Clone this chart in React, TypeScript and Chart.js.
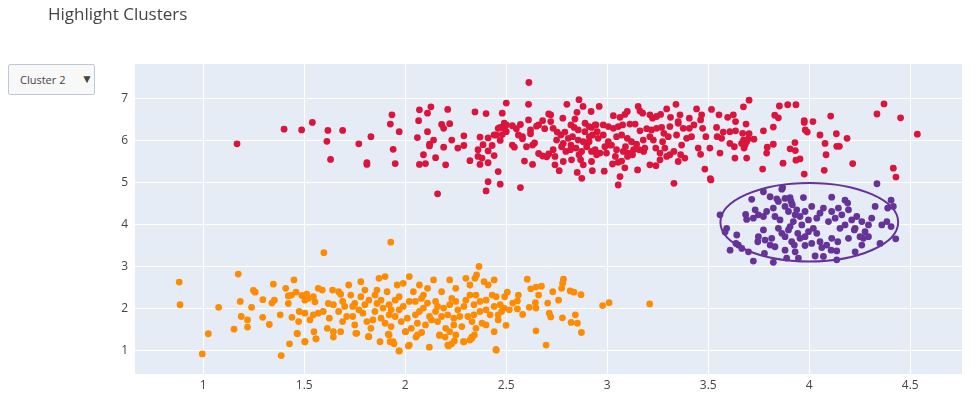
import React, { useEffect, useRef } from "react";
import { Chart, registerables } from "chart.js";
Chart.register(...registerables);

const titleText = "Highlight Clusters";
const menuLabel = "Cluster 2";
const xTicks = [1, 1.5, 2, 2.5, 3, 3.5, 4, 4.5];
const yTicks = [1, 2, 3, 4, 5, 6, 7];
const xRange = [0.662, 4.756];
const yRange = [0.452, 7.83];
const highlightBox = [3.56, 3.13, 4.44, 5.0]; // x0, y0, x1, y1

const orangePoints: [number, number][] = [
  [1.597, 3.34], [0.881, 2.64], [0.885, 2.1], [1.173, 2.83], [1.076, 2.04], [1.025, 1.41], [0.995, 0.93],
  [1.183, 2.18], [1.152, 1.52], [1.188, 1.82], [1.219, 1.74], [1.219, 1.57], [1.239, 2.04], [1.248, 2.44],
  [1.257, 2.4], [1.295, 2.22], [1.294, 1.8], [1.327, 1.63], [1.34, 2.14], [1.352, 2.21], [1.347, 2.59],
  [1.381, 1.86], [1.408, 2.49], [1.421, 2.31], [1.437, 2.33], [1.459, 2.4], [1.421, 2.13], [1.449, 2.69],
  [1.439, 1.8], [1.472, 1.7], [1.464, 1.42], [1.427, 1.17], [1.386, 0.89], [1.502, 1.22], [1.488, 2.32],
  [1.512, 2.35], [1.503, 2.21], [1.52, 2.25], [1.545, 2.29], [1.553, 2.17], [1.569, 2.49], [1.589, 2.45],
  [1.475, 1.94], [1.503, 1.9], [1.528, 1.74], [1.545, 1.86], [1.569, 1.9], [1.594, 1.94], [1.619, 2.13],
  [1.64, 2.45], [1.644, 2.1], [1.624, 1.78], [1.614, 1.54], [1.644, 1.46], [1.548, 1.46], [1.558, 1.29],
  [1.928, 3.59], [2.365, 3.01], [2.353, 2.81], [2.345, 2.73],
  [1.67, 2.41], [1.69, 2.18], [1.67, 1.94], [1.69, 1.7], [1.68, 1.46], [1.72, 2.57], [1.73, 2.33],
  [1.74, 2.06], [1.74, 1.82], [1.75, 1.62], [1.76, 1.42], [1.78, 2.65], [1.78, 2.29], [1.8, 2.1],
  [1.79, 1.9], [1.81, 1.7], [1.82, 1.34], [1.83, 1.54], [1.85, 1.94], [1.86, 2.45], [1.87, 2.73],
  [1.88, 2.21], [1.88, 1.78], [1.9, 2.77], [1.91, 2.41], [1.92, 2.1], [1.92, 1.86], [1.93, 1.58],
  [1.92, 1.38], [1.94, 1.22], [1.96, 2.57], [1.97, 2.29], [1.97, 1.98], [1.98, 1.7], [1.97, 1.0],
  [1.99, 2.61], [2.0, 1.46], [2.02, 1.14], [2.02, 2.77], [2.02, 2.18], [2.04, 2.41], [2.05, 1.86],
  [2.06, 1.38], [2.07, 2.57], [2.08, 2.25], [2.09, 2.02], [2.1, 1.62], [2.11, 2.49], [2.12, 1.82],
  [2.14, 2.69], [2.15, 2.18], [2.15, 1.94], [2.16, 1.7], [2.17, 1.38], [2.18, 2.41], [2.19, 2.02],
  [2.2, 1.54], [2.21, 1.14], [2.22, 2.69], [2.23, 2.25], [2.24, 1.78], [2.25, 2.49], [2.25, 1.38],
  [2.26, 1.98], [2.28, 1.58], [2.29, 1.22], [2.3, 2.73], [2.3, 2.21], [2.31, 1.82], [2.32, 2.57],
  [2.33, 1.3], [2.34, 2.1], [2.35, 1.54], [2.35, 2.33], [2.37, 1.94], [2.38, 1.66], [2.39, 2.65],
  [2.4, 2.21], [2.41, 2.57], [2.42, 1.86], [2.44, 2.06], [2.44, 2.69], [2.45, 2.29], [2.46, 1.74],
  [2.45, 1.02], [2.47, 2.1], [1.7, 2.06], [1.77, 1.98], [1.82, 2.21], [1.89, 2.02], [1.95, 1.82],
  [2.01, 1.78], [2.06, 1.66], [2.11, 2.14], [2.21, 1.86], [2.25, 2.18], [2.33, 1.7], [2.4, 1.98],
  [2.43, 2.33],
  [1.68, 2.35], [1.71, 1.82], [1.75, 2.13], [1.8, 2.45], [1.84, 1.74], [1.86, 2.13], [1.9, 1.66],
  [1.93, 1.98], [1.95, 2.21], [1.99, 2.06], [2.03, 1.54], [2.07, 1.94], [2.09, 2.33], [2.13, 1.74],
  [2.16, 2.06], [2.18, 1.82], [2.22, 2.1], [2.24, 1.62], [2.27, 1.82], [2.29, 2.06], [2.32, 2.33],
  [2.34, 1.86], [2.37, 2.18], [2.4, 1.62], [2.44, 1.46], [2.46, 1.86], [2.22, 1.46], [2.05, 2.18],
  [1.85, 2.33],
  [2.604, 2.71], [2.621, 2.48], [2.647, 2.52], [2.674, 2.54], [2.783, 2.71], [2.779, 2.61], [2.774, 2.49],
  [2.73, 2.41], [2.816, 2.43], [2.835, 2.4], [2.87, 2.34], [2.66, 2.33], [2.56, 2.33], [2.555, 2.19],
  [2.505, 2.4], [2.492, 2.29], [2.532, 2.14], [2.644, 2.15], [2.705, 2.14], [2.759, 2.21], [2.614, 2.04],
  [2.647, 2.02], [2.555, 2.0], [2.515, 1.98], [2.489, 2.02], [2.477, 1.94], [2.581, 1.87], [2.713, 1.9],
  [2.72, 1.81], [2.778, 1.79], [2.842, 1.86], [2.821, 1.68], [2.852, 1.66], [2.872, 1.44], [2.499, 1.61],
  [2.647, 1.48], [2.697, 1.14], [2.977, 2.08], [3.009, 2.15], [3.21, 2.12],
  [1.466, 1.41], [1.504, 1.22], [1.558, 1.29], [1.644, 1.33], [1.755, 1.42], [1.817, 1.34], [1.875, 1.22],
  [1.916, 1.4], [1.925, 1.22], [1.944, 1.17], [1.969, 1.0], [2.002, 1.46], [2.015, 1.12], [2.053, 1.33],
  [2.081, 1.44], [2.119, 1.09], [2.169, 1.37], [2.197, 1.33], [2.214, 1.12], [2.23, 1.17], [2.243, 1.24],
  [2.288, 1.22], [2.32, 1.26], [2.329, 1.33], [2.342, 1.38], [2.449, 1.04],
];

const redPoints: [number, number][] = [
  [1.167, 5.93], [1.4, 6.28], [1.487, 6.26], [1.54, 6.44], [1.617, 6.25], [1.69, 6.25], [1.612, 5.99],
  [1.63, 5.56], [1.77, 5.93],
  [2.612, 7.39], [1.934, 6.62], [1.926, 6.4], [1.97, 6.22], [1.83, 6.1], [1.94, 5.8], [1.81, 5.44],
  [1.81, 5.48], [1.95, 5.46], [2.07, 6.74], [2.127, 6.81], [2.11, 6.66], [2.21, 6.75], [2.066, 6.48],
  [2.345, 6.69], [2.4, 6.65], [2.5, 6.9], [2.48, 6.66], [2.61, 6.87], [2.18, 6.39], [2.19, 6.3],
  [2.22, 6.41], [2.11, 6.22], [2.06, 6.08], [2.14, 6.02], [2.12, 5.92], [2.12, 5.88], [2.23, 6.02],
  [2.29, 6.12], [2.19, 5.85], [2.26, 5.83], [2.29, 5.89], [2.09, 5.67], [2.15, 5.6], [2.07, 5.44],
  [2.1, 5.46], [2.2, 5.43], [2.16, 4.74], [2.32, 5.53], [2.36, 5.79], [2.37, 6.09], [2.41, 6.07],
  [2.385, 5.91], [2.43, 5.89], [2.41, 5.76], [2.36, 5.63], [2.38, 5.59], [2.37, 5.44], [2.41, 5.48],
  [2.44, 5.65], [2.46, 5.27], [2.41, 5.03], [2.47, 4.97], [2.4, 4.81], [2.57, 4.89], [2.44, 6.14],
  [2.45, 6.14], [2.46, 6.3], [2.47, 6.32], [2.49, 6.42], [2.49, 6.3], [2.5, 6.38], [2.5, 6.22],
  [2.48, 6.15], [2.47, 6.01], [2.53, 6.36], [2.55, 6.29], [2.57, 6.39], [2.61, 6.5], [2.62, 6.26],
  [2.56, 6.14], [2.58, 6.05], [2.58, 6.1], [2.62, 6.17], [2.65, 6.35], [2.66, 6.38], [2.68, 6.48],
  [2.69, 6.29], [2.53, 5.9], [2.54, 5.85], [2.6, 5.86], [2.63, 5.9], [2.64, 5.95], [2.66, 5.7],
  [2.68, 5.64], [2.7, 5.62], [2.71, 5.69], [2.59, 5.52], [2.63, 5.44], [2.71, 6.64],
  [2.86, 6.98], [2.8, 6.87], [2.88, 6.82], [2.96, 6.82], [2.92, 6.7], [2.85, 6.68], [2.78, 6.54],
  [2.72, 6.62], [2.72, 6.46], [2.84, 6.52], [2.89, 6.42], [2.91, 6.34], [2.94, 6.38],
  [2.732, 6.3], [2.752, 6.21], [2.79, 6.21], [2.836, 6.32], [2.856, 6.26], [2.889, 6.22], [2.922, 6.32],
  [2.944, 6.38], [2.98, 6.38], [3.005, 6.34], [3.03, 6.3], [3.054, 6.34], [3.076, 6.38], [3.112, 6.4],
  [3.138, 6.4], [3.162, 6.24], [3.195, 6.29], [3.219, 6.26], [3.244, 6.3], [3.269, 6.32], [3.31, 6.34],
  [3.351, 6.42], [3.376, 6.3], [3.406, 6.3], [3.429, 6.38], [3.462, 6.5], [3.472, 6.3], [3.541, 6.32],
  [3.574, 6.21], [3.607, 6.22], [3.635, 6.24],
  [3.03, 6.6], [3.063, 6.56], [3.087, 6.63], [3.099, 6.7], [3.153, 6.82], [3.162, 6.71], [3.175, 6.66],
  [3.211, 6.62], [3.224, 6.54], [3.244, 6.58], [3.264, 6.63], [3.294, 6.76], [3.313, 6.56], [3.34, 6.87],
  [3.36, 6.62], [3.351, 6.46], [3.406, 6.54], [3.442, 6.76], [3.467, 6.62], [3.516, 6.75], [3.553, 6.62],
  [3.596, 6.56], [3.624, 6.62], [3.635, 6.46],
  [2.749, 6.02], [2.782, 5.94], [2.807, 6.06], [2.828, 6.1], [2.856, 6.02], [2.881, 5.98], [2.911, 6.1],
  [2.927, 6.14], [2.955, 6.06], [2.98, 6.14], [3.005, 5.98], [3.021, 5.9], [3.046, 6.1], [3.071, 6.14],
  [3.099, 6.06], [3.12, 5.98], [3.145, 5.92], [3.178, 6.02], [3.211, 6.1], [3.228, 6.02], [3.274, 5.98],
  [3.302, 6.1], [3.343, 6.14], [3.368, 5.9], [3.393, 6.06], [3.417, 6.1], [3.488, 6.1], [3.544, 6.1],
  [3.566, 6.06], [3.607, 5.94], [3.629, 5.86],
  [2.732, 5.79], [2.774, 5.86], [2.795, 5.75], [2.818, 5.79], [2.845, 5.83], [2.873, 5.75], [2.898, 5.86],
  [2.922, 5.75], [2.964, 5.71], [2.988, 5.86], [3.013, 5.9], [3.046, 5.79], [3.079, 5.75], [3.104, 5.71],
  [3.125, 5.67], [3.158, 5.79], [3.186, 5.83], [3.261, 5.71], [3.285, 5.83], [3.31, 5.67], [3.33, 5.75],
  [3.363, 5.67], [3.384, 5.59], [3.45, 5.83], [3.462, 5.68], [3.508, 5.83], [3.558, 5.71], [3.632, 5.59],
  [2.741, 5.63], [2.782, 5.51], [2.823, 5.55], [2.868, 5.55], [2.881, 5.43], [2.922, 5.51], [2.947, 5.67],
  [3.026, 5.45], [3.054, 5.49], [3.071, 5.52], [3.087, 5.36], [3.15, 5.31], [3.211, 5.43], [3.241, 5.41],
  [3.261, 5.55], [3.294, 5.63], [3.351, 5.51], [3.483, 5.33],
  [2.741, 5.43], [2.762, 5.29], [2.851, 5.25], [2.874, 5.11], [2.926, 5.29], [2.985, 5.28], [3.063, 5.15],
  [3.054, 4.95], [3.33, 4.99], [3.513, 5.07], [3.51, 5.1],
  [2.77, 6.14], [2.82, 5.9], [2.86, 5.67], [2.91, 5.98], [2.94, 5.79], [2.996, 5.71], [3.04, 5.63],
  [3.09, 5.86], [3.13, 5.79], [3.1, 5.63], [3.18, 5.75], [3.24, 5.83], [3.28, 6.18], [2.95, 6.22],
  [2.82, 6.38],
  [3.702, 6.97], [3.674, 6.81], [3.852, 6.83], [3.893, 6.86], [3.934, 6.86], [3.829, 6.61], [3.847, 6.55],
  [3.687, 6.4], [3.822, 6.33], [3.975, 6.48], [3.975, 6.44], [4.018, 6.46], [4.106, 6.59], [3.67, 6.18],
  [3.702, 6.17], [3.773, 6.24], [3.98, 6.26], [3.99, 6.21], [4.053, 6.14], [4.134, 6.17], [4.187, 6.06],
  [3.674, 6.02], [3.665, 5.94], [3.682, 5.9], [3.69, 5.98], [3.698, 6.05], [3.726, 6.04], [3.677, 5.83],
  [3.792, 5.85], [3.789, 5.71], [3.822, 5.92], [3.929, 5.96], [3.905, 5.81], [3.931, 5.77], [4.078, 5.94],
  [4.136, 5.87], [4.149, 5.87], [4.083, 5.67], [3.934, 5.54], [3.954, 5.57], [3.87, 5.47], [3.69, 5.59],
  [3.769, 5.33], [4.074, 5.3], [3.975, 5.21], [4.215, 5.46], [4.335, 6.64], [4.37, 6.88], [4.452, 6.55],
  [4.535, 6.16], [4.416, 5.35], [4.429, 5.14],
];

const purplePoints: [number, number][] = [
  [4.335, 4.98], [3.868, 4.89], [3.864, 4.85], [3.773, 4.79], [3.715, 4.61], [3.806, 4.67], [3.839, 4.62],
  [3.847, 4.56], [3.88, 4.63], [3.905, 4.65], [3.91, 4.56], [3.971, 4.65], [4.111, 4.66], [4.177, 4.59],
  [4.19, 4.52], [4.405, 4.59], [4.388, 4.4], [4.416, 4.44], [4.326, 4.44], [3.558, 4.24], [3.685, 4.25],
  [3.69, 4.13], [3.732, 4.36], [3.748, 4.24], [3.723, 4.16], [3.773, 4.2], [3.789, 4.32], [3.822, 4.4],
  [3.83, 4.2], [3.855, 4.12], [3.88, 4.44], [3.897, 4.32], [3.916, 4.48], [3.93, 4.24], [3.921, 4.08],
  [3.905, 3.96], [3.938, 4.36], [3.954, 4.2], [3.963, 4.0], [3.979, 4.32], [3.996, 4.12], [4.012, 4.44],
  [4.02, 3.92], [4.037, 4.16], [4.053, 4.28], [4.07, 4.4], [4.095, 4.08], [4.111, 4.32], [4.128, 4.16],
  [4.144, 4.4], [4.161, 4.24], [4.177, 4.0], [4.194, 4.36], [4.21, 4.12], [4.227, 3.92], [4.235, 4.2],
  [4.26, 4.08], [4.276, 3.84], [4.293, 4.0], [4.309, 4.16], [4.268, 3.68], [4.293, 3.72], [4.359, 4.0],
  [4.384, 4.08], [4.405, 3.96], [4.428, 3.67], [3.591, 3.92], [3.583, 3.83], [3.641, 3.76], [3.637, 3.56],
  [3.649, 3.52], [3.666, 3.44], [3.608, 3.4], [3.699, 3.36], [3.748, 3.72], [3.745, 3.6], [3.773, 3.88],
  [3.781, 3.64], [3.814, 3.68], [3.806, 3.52], [3.83, 3.48], [3.847, 3.92], [3.864, 3.8], [3.88, 3.72],
  [3.897, 3.88], [3.913, 3.6], [3.926, 3.52], [3.943, 3.8], [3.954, 3.68], [3.979, 3.72], [3.996, 3.84],
  [4.012, 3.56], [4.037, 3.8], [4.053, 3.6], [4.062, 3.46], [4.086, 3.52], [4.111, 3.68], [4.141, 3.6],
  [4.152, 3.92], [4.194, 3.68], [4.223, 3.88], [4.251, 3.72], [4.26, 3.52], [4.35, 3.56], [4.227, 3.36],
  [4.136, 3.38], [4.108, 3.4], [3.88, 3.4], [3.93, 3.36], [3.888, 3.21], [3.946, 3.21], [3.979, 3.51],
  [4.029, 3.26], [4.07, 3.25], [4.136, 3.17], [3.723, 3.14], [3.822, 3.11], [3.778, 3.32],
];

const toXY = (pts: [number, number][]) => pts.map(([x, y]) => ({ x, y }));

const FONT = '"Open Sans", verdana, arial, sans-serif';

export default function App() {
  const ref = useRef<HTMLCanvasElement | null>(null);

  useEffect(() => {
    document.body.style.margin = "0";
    const canvas = ref.current;
    if (!canvas) return;

    const bgPlugin = {
      id: "plotBg",
      beforeDraw(chart: any) {
        const { ctx, chartArea } = chart;
        ctx.save();
        ctx.fillStyle = "#E5ECF6";
        ctx.fillRect(chartArea.left, chartArea.top, chartArea.right - chartArea.left, chartArea.bottom - chartArea.top);
        ctx.restore();
      },
    };

    const ellipsePlugin = {
      id: "ellipse",
      afterDatasetsDraw(chart: any) {
        const { ctx, scales, chartArea } = chart;
        const [x0, y0, x1, y1] = highlightBox;
        const px0 = scales.x.getPixelForValue(x0);
        const px1 = scales.x.getPixelForValue(x1);
        const py0 = scales.y.getPixelForValue(y0);
        const py1 = scales.y.getPixelForValue(y1);
        ctx.save();
        ctx.beginPath();
        ctx.rect(chartArea.left, chartArea.top, chartArea.right - chartArea.left, chartArea.bottom - chartArea.top);
        ctx.clip();
        ctx.beginPath();
        ctx.ellipse((px0 + px1) / 2, (py0 + py1) / 2, Math.abs(px1 - px0) / 2, Math.abs(py1 - py0) / 2, 0, 0, Math.PI * 2);
        ctx.strokeStyle = "#663399";
        ctx.lineWidth = 2;
        ctx.stroke();
        ctx.restore();
      },
    };

    const chart = new Chart(canvas, {
      type: "scatter",
      data: {
        datasets: [
          { data: toXY(orangePoints), backgroundColor: "#FF8C00", borderWidth: 0, pointRadius: 3.4 },
          { data: toXY(redPoints), backgroundColor: "#DC143C", borderWidth: 0, pointRadius: 3.4 },
          { data: toXY(purplePoints), backgroundColor: "#663399", borderWidth: 0, pointRadius: 3.4 },
        ],
      },
      options: {
        animation: false,
        responsive: false,
        devicePixelRatio: 1,
        layout: { padding: { left: 0, right: 15, top: 64, bottom: 0 } },
        plugins: { legend: { display: false }, tooltip: { enabled: false }, title: { display: false } },
        scales: {
          x: {
            type: "linear",
            min: xRange[0],
            max: xRange[1],
            afterBuildTicks: (scale: any) => { scale.ticks = xTicks.map((v) => ({ value: v })); },
            afterFit: (scale: any) => { scale.height = 25; },
            grid: { color: "#ffffff", lineWidth: 1, drawTicks: false },
            border: { display: false },
            ticks: { padding: 4, color: "#444", font: { family: FONT, size: 12 }, callback: (v: any) => String(v), maxRotation: 0 },
          },
          y: {
            type: "linear",
            min: yRange[0],
            max: yRange[1],
            afterBuildTicks: (scale: any) => { scale.ticks = yTicks.map((v) => ({ value: v })); },
            afterFit: (scale: any) => { scale.width = 135; },
            grid: { color: "#ffffff", lineWidth: 1, drawTicks: false },
            border: { display: false },
            ticks: { padding: 7, color: "#444", font: { family: FONT, size: 12 }, callback: (v: any) => String(v) },
          },
        },
      },
      plugins: [bgPlugin, ellipsePlugin],
    } as any);

    return () => chart.destroy();
  }, []);

  return (
    <div style={{ position: "relative", width: 977, height: 399, background: "#fff", fontFamily: FONT }}>
      <canvas ref={ref} width={977} height={399} style={{ position: "absolute", left: 0, top: 0, width: 977, height: 399 }} />
      <div style={{ position: "absolute", left: 48, top: 2, fontSize: 17, lineHeight: "24px", color: "#444", whiteSpace: "nowrap" }}>
        {titleText}
      </div>
      <div
        style={{
          position: "absolute", left: 8, top: 64, width: 85, height: 29, border: "1px solid #BEC8D9",
          background: "#F8F8F8", borderRadius: 2, boxSizing: "content-box",
        }}
      >
        <span style={{ position: "absolute", left: 11, top: 7, fontSize: 11, lineHeight: "15px", color: "#444" }}>{menuLabel}</span>
        <span style={{ position: "absolute", left: 72, top: 6, fontSize: 12, lineHeight: "15px", color: "#444" }}>▼</span>
      </div>
    </div>
  );
}
